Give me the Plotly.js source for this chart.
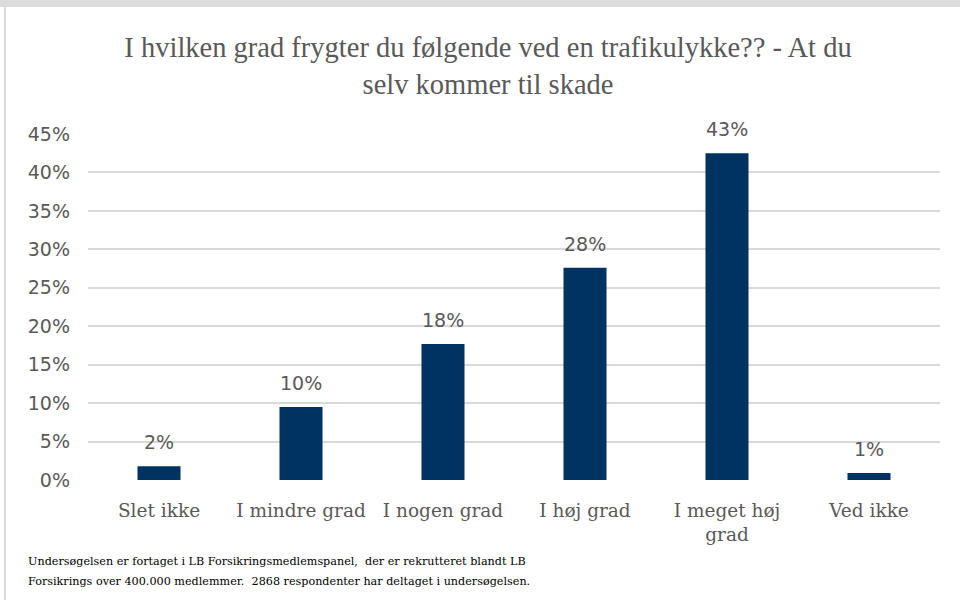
<!DOCTYPE html>
<html>
<head>
<meta charset="utf-8">
<script src="https://cdn.plot.ly/plotly-3.0.1.min.js"></script>
<style>
html,body{margin:0;padding:0;background:#fff;}
#topband{position:absolute;left:0;top:0;width:960px;height:7px;background:#dcdcdc;}
#leftline{position:absolute;left:4px;top:7px;width:2px;height:593px;background:#d9d9d9;}
#chart{position:absolute;left:0;top:0;width:960px;height:600px;}
</style>
</head>
<body>
<div id="chart"></div>
<div id="topband"></div>
<div id="leftline"></div>
<script>
const categories = ["Slet ikke", "I mindre grad", "I nogen grad", "I høj grad", "I meget høj<br>grad", "Ved ikke"];
const values = [0.018, 0.095, 0.177, 0.276, 0.425, 0.009];
const labels = ["2%", "10%", "18%", "28%", "43%", "1%"];
const tickVals = [0, 0.05, 0.10, 0.15, 0.20, 0.25, 0.30, 0.35, 0.40, 0.45];
const tickText = ["0%", "5%", "10%", "15%", "20%", "25%", "30%", "35%", "40%", "45%"];
const titleText = "I hvilken grad frygter du følgende ved en trafikulykke?? - At du<br>selv kommer til skade";
const footnoteLines = [
  "Undersøgelsen er fortaget i LB Forsikringsmedlemspanel,  der er rekrutteret blandt LB",
  "Forsikrings over 400.000 medlemmer.  2868 respondenter har deltaget i undersøgelsen."
];

const trace = {
  type: "bar",
  x: categories,
  y: values,
  marker: {color: "#003361"},
  hoverinfo: "none"
};

const annotations = categories.map((c, i) => ({
  x: c, y: values[i], xref: "x", yref: "y",
  text: labels[i], showarrow: false,
  yanchor: "bottom", yshift: 11,
  font: {family: "DejaVu Sans, sans-serif", size: 19, color: "#595959"}
}));
footnoteLines.forEach((t, i) => {
  annotations.push({
    xref: "paper", yref: "paper",
    x: (26 - 88) / 852, y: (480 - (561 + i * 20)) / 346,
    xanchor: "left", yanchor: "middle", align: "left",
    showarrow: false, text: t,
    font: {family: "DejaVu Serif, serif", size: 11.2, color: "#000000"}
  });
});

const layout = {
  width: 960, height: 600,
  margin: {l: 88, r: 20, t: 134, b: 120},
  paper_bgcolor: "rgba(0,0,0,0)",
  plot_bgcolor: "rgba(0,0,0,0)",
  showlegend: false,
  bargap: 0.697,
  title: {
    text: titleText,
    x: 488 / 960, xref: "container", xanchor: "center",
    y: 1 - 57 / 600, yref: "container", yanchor: "middle",
    font: {family: "Liberation Serif, serif", size: 28.5, color: "#595959"}
  },
  xaxis: {
    type: "category",
    showgrid: false, zeroline: false, showline: false,
    ticks: "", ticklabelstandoff: 17,
    tickfont: {family: "DejaVu Serif, serif", size: 18.5, color: "#595959"}
  },
  yaxis: {
    range: [0, 0.45],
    tickvals: tickVals, ticktext: tickText,
    showgrid: true, gridcolor: "#d9d9d9", gridwidth: 2,
    zeroline: false, showline: false, ticks: "",
    ticklabelstandoff: 17,
    tickfont: {family: "DejaVu Sans, sans-serif", size: 19, color: "#595959"}
  },
  annotations: annotations
};

Plotly.newPlot("chart", [trace], layout, {displayModeBar: false, staticPlot: true});
</script>
</body>
</html>
